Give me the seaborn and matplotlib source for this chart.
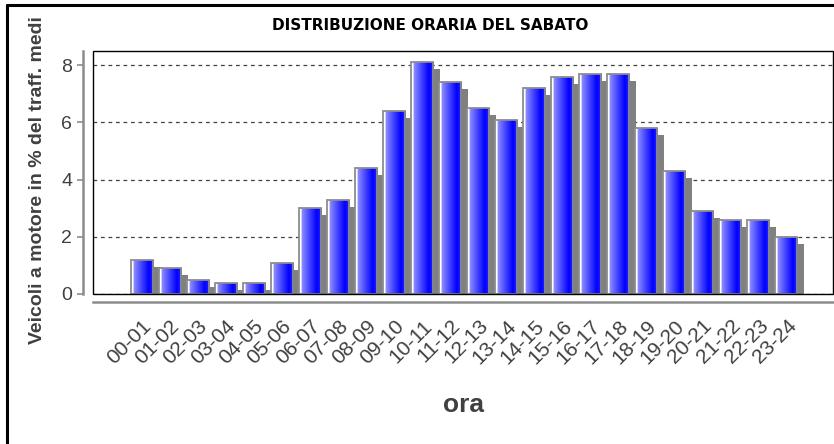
import numpy as np
import pandas as pd
import matplotlib
matplotlib.use('Agg')
import matplotlib.pyplot as plt
import matplotlib.transforms as mtransforms
from matplotlib.colors import LinearSegmentedColormap
from matplotlib.lines import Line2D
from matplotlib.patches import Rectangle
import seaborn as sns

# hourly share of Saturday traffic (%)
fasce = ['00-01', '01-02', '02-03', '03-04', '04-05', '05-06', '06-07', '07-08',
         '08-09', '09-10', '10-11', '11-12', '12-13', '13-14', '14-15', '15-16',
         '16-17', '17-18', '18-19', '19-20', '20-21', '21-22', '22-23', '23-24']
quota = [1.2, 0.9, 0.5, 0.4, 0.4, 1.1, 3.0, 3.3, 4.4, 6.4, 8.1, 7.4,
         6.5, 6.1, 7.2, 7.6, 7.7, 7.7, 5.8, 4.3, 2.9, 2.6, 2.6, 2.0]
yticks = [0, 2, 4, 6, 8]

df = pd.DataFrame({'ora': fasce, 'quota': quota})

sns.set_style('white')
plt.rcParams['font.family'] = ['Liberation Sans', 'DejaVu Sans']

fig = plt.figure(figsize=(8.34, 4.44), dpi=100)
ax = fig.add_axes([93 / 834, 1 - 294 / 444, 740 / 834, 243 / 444])

bw = 0.785
# shadow bars, shifted right/down
sns.barplot(data=df, x='ora', y='quota', color='#808080', width=bw,
            saturation=1, linewidth=0, ax=ax, zorder=2)
n_shadow = len(ax.patches)
shift = mtransforms.ScaledTranslation(7 / 100, -7 / 100, fig.dpi_scale_trans)
for p in ax.patches:
    p.set_transform(ax.transData + shift)

# main bars
sns.barplot(data=df, x='ora', y='quota', color='#0000ff', width=bw,
            saturation=1, ax=ax, zorder=3)
grad_cmap = LinearSegmentedColormap.from_list(
    'bar', [(0.0, '#ffffff'), (0.09, '#ffffff'), (0.12, '#8c8cff'),
            (0.78, '#0000ff'), (1.0, '#2a2aff')])
grad = np.linspace(0, 1, 64).reshape(1, -1)
for p in ax.patches[n_shadow:]:
    x0, w, h = p.get_x(), p.get_width(), p.get_height()
    im = ax.imshow(grad, cmap=grad_cmap, extent=[x0, x0 + w, 0, h],
                   aspect='auto', zorder=2.5, interpolation='bilinear')
    im.set_clip_path(p)
    p.set_facecolor('none')
    p.set_edgecolor('#8c8c8c')
    p.set_linewidth(1.3)

ax.set_xlim(-1.74, 24.66)
ax.set_ylim(0, 8.5)
ax.set_yticks(yticks)
ax.set_yticklabels([str(v) for v in yticks])

ax.yaxis.grid(True, linestyle=(0, (3, 3)), color='#404040', linewidth=0.9)
ax.set_axisbelow(True)

for s in ['top', 'right']:
    ax.spines[s].set_visible(False)
ax.spines['left'].set_position(('outward', 7))
ax.spines['bottom'].set_position(('outward', 6))
for s in ['left', 'bottom']:
    ax.spines[s].set_color('#8c8c8c')
    ax.spines[s].set_linewidth(1.8)
ax.add_patch(Rectangle((0, 0), 1, 1, transform=ax.transAxes, fill=False,
                       edgecolor='black', linewidth=1.0, zorder=5, clip_on=False))

ax.tick_params(axis='y', length=4, width=1.2, color='#8c8c8c', pad=4,
               labelsize=14, labelcolor='#404040', left=True)
ax.tick_params(axis='x', length=0, pad=10, labelsize=15, labelcolor='#404040')
plt.setp(ax.get_xticklabels(), rotation=45, ha='right', rotation_mode='anchor')

ax.set_xlabel('')
ax.set_ylabel('')
fig.text(463 / 834, 1 - 405 / 444, 'ora', ha='center', va='center',
         fontsize=19, fontweight='bold', color='#404040')
fig.text(38 / 834, 1 - 180 / 444, 'Veicoli a motore in % del traff. medi',
         rotation=90, ha='center', va='center', fontsize=14,
         fontweight='bold', color='#404040')
fig.text(430 / 834, 1 - 26 / 444, 'DISTRIBUZIONE ORARIA DEL SABATO',
         ha='center', va='center', fontsize=11, fontweight='bold', color='black',
         family='DejaVu Sans')

# outer frame
fig.add_artist(Line2D([6.5 / 834, 1], [1 - 5.5 / 444] * 2, color='black', linewidth=2.2))
fig.add_artist(Line2D([6.5 / 834] * 2, [0, 1 - 5.5 / 444], color='black', linewidth=2.2))

fig.savefig('out.png', dpi=100)
